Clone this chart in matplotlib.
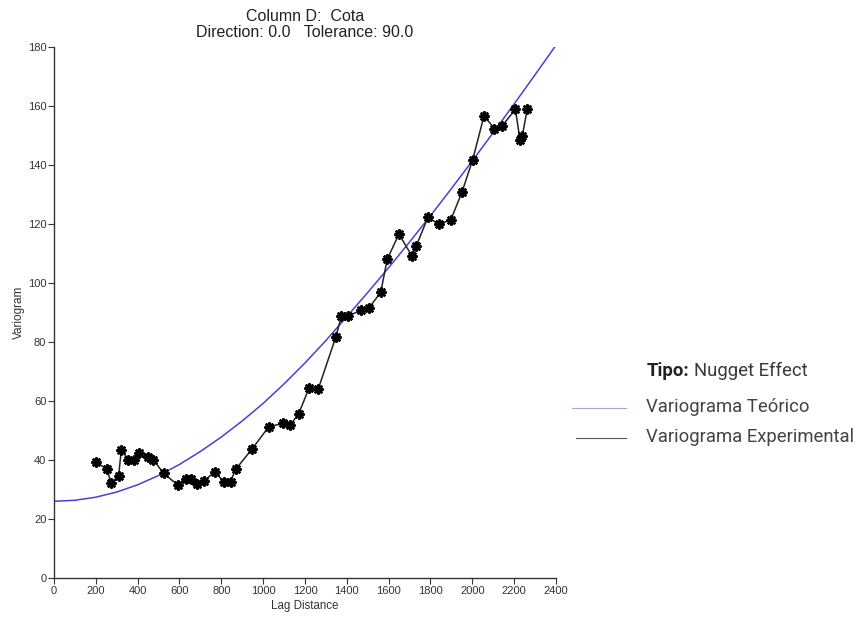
import numpy as np
import matplotlib
matplotlib.use("Agg")
import matplotlib.pyplot as plt
from matplotlib.lines import Line2D

# experimental variogram
lag = [201, 255, 272, 309, 322, 356, 384, 406, 449, 475, 524, 591, 629, 655,
       684, 718, 769, 811, 844, 868, 949, 1027, 1095, 1130, 1170, 1219, 1263,
       1348, 1374, 1404, 1467, 1506, 1562, 1593, 1649, 1713, 1731, 1788, 1840,
       1897, 1950, 2001, 2056, 2106, 2143, 2206, 2228, 2239, 2262]
gamma = [39.2, 36.9, 32.1, 34.5, 43.5, 40.0, 40.0, 42.5, 41.0, 40.1, 35.5,
         31.6, 33.5, 33.5, 32.0, 33.0, 36.0, 32.7, 32.7, 36.8, 43.9, 51.3,
         52.4, 51.9, 55.7, 64.3, 64.0, 81.8, 88.8, 88.8, 90.7, 91.6, 96.8,
         108.0, 116.6, 109.0, 112.4, 122.3, 119.9, 121.4, 130.7, 141.6, 156.7,
         152.3, 153.3, 158.9, 148.5, 149.8, 158.9]

# theoretical model curve
model_lag = list(range(0, 2500, 100))
model_gamma = [26.0, 26.35, 27.4, 29.15, 31.6, 34.75, 38.5, 42.9, 47.8, 53.25,
               59.2, 65.8, 72.9, 80.5, 88.6, 96.8, 105.2, 113.9, 122.8, 132.0,
               141.4, 151.0, 160.7, 170.6, 180.6]

xticks = list(range(0, 2600, 200))
yticks = list(range(0, 200, 20))

plt.rcParams['font.family'] = ['Liberation Sans', 'DejaVu Sans']

fig = plt.figure(figsize=(8.62, 6.22), dpi=100)
ax = fig.add_axes([0.0626, 0.0707, 0.5824, 0.8537])

ax.plot(model_lag, model_gamma, color='#4a3fd6', lw=1.1, zorder=2)
ax.plot(lag, gamma, color='#222222', lw=1.1, zorder=3)
ax.plot(lag, gamma, ls='none', marker='o', ms=5.5, color='black', zorder=4)
ax.plot(lag, gamma, ls='none', marker=(8, 2, 0), ms=7.5, mew=1.4,
        color='black', zorder=4)

ax.set_xlim(0, 2400)
ax.set_ylim(0, 180)
ax.set_xticks(xticks)
ax.set_yticks(yticks)
ax.tick_params(labelsize=8, length=4, width=0.8, direction='out', pad=1.5,
               colors='#333333')
for s in ['top', 'right']:
    ax.spines[s].set_visible(False)
for s in ['left', 'bottom']:
    ax.spines[s].set_linewidth(1.0)
    ax.spines[s].set_color('#333333')

ax.set_xlabel('Lag Distance', fontsize=8.3, color='#333333', labelpad=3)
ax.set_ylabel('Variogram', fontsize=8.5, color='#333333', labelpad=2)
ax.set_title('Column D:  Cota\nDirection: 0.0   Tolerance: 90.0',
             fontsize=11.5, color='#222222', linespacing=1.1, pad=7)

# side legend
rob = ['Roboto', 'DejaVu Sans']
fig.text(0.750, 0.403, 'Tipo:', fontsize=13.3, fontweight='bold',
         family=rob, color='#222222', va='center')
fig.text(0.8055, 0.403, 'Nugget Effect', fontsize=13.3,
         family=rob, color='#3a3a3a', va='center')
fig.text(0.750, 0.345, 'Variograma Teórico', fontsize=13.3,
         family=rob, color='#444444', va='center')
fig.text(0.750, 0.297, 'Variograma Experimental', fontsize=13.3,
         family=rob, color='#444444', va='center')
fig.add_artist(Line2D([0.664, 0.726], [0.344, 0.344], color='#a8a8e0', lw=0.8))
fig.add_artist(Line2D([0.668, 0.726], [0.296, 0.296], color='#555555', lw=0.8))

fig.savefig('out.png', dpi=100)
